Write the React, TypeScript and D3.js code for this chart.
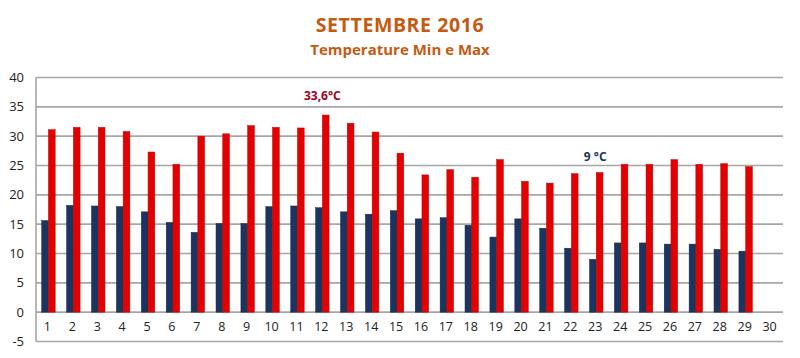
import React from "react";
import * as d3 from "d3";

const days = d3.range(1, 31).map(String);
const minTemps: (number | null)[] = [
  15.6, 18.2, 18.1, 18.0, 17.1, 15.3, 13.6, 15.1, 15.1, 18.0,
  18.1, 17.8, 17.1, 16.7, 17.3, 15.9, 16.1, 14.8, 12.8, 15.9,
  14.3, 10.9, 9.0, 11.8, 11.8, 11.6, 11.6, 10.7, 10.4, null,
];
const maxTemps: (number | null)[] = [
  31.1, 31.5, 31.5, 30.8, 27.3, 25.2, 30.0, 30.4, 31.8, 31.5,
  31.4, 33.6, 32.2, 30.7, 27.1, 23.4, 24.3, 23.0, 26.0, 22.3,
  22.0, 23.6, 23.8, 25.2, 25.2, 26.0, 25.2, 25.3, 24.8, null,
];
const yTicks = [-5, 0, 5, 10, 15, 20, 25, 30, 35, 40];
const title = "SETTEMBRE 2016";
const subtitle = "Temperature Min e Max";
const maxNote = { day: "12", text: "33,6°C" };
const minNote = { day: "23", text: "9 °C" };

const W = 800;
const H = 358;
const left = 36;
const right = 783;
const font = "Open Sans, Liberation Sans, sans-serif";

export default function App() {
  const x = d3.scaleBand<string>().domain(days).range([left, right]);
  const y = d3.scaleLinear().domain([-5, 40]).range([341.5, 77.5]);
  const step = x.step();
  const bw = step * 0.27;
  const navy = "#1c355e";
  const red = "#e30000";

  return (
    <svg
      width={W}
      height={H}
      style={{ position: "absolute", left: 0, top: 0, background: "#fff" }}
      fontFamily={font}
    >
      <text x={400} y={31.5} textAnchor="middle" fontSize={19.5} fontWeight="bold" fill="#c55a11" letterSpacing={0.6}>
        {title}
      </text>
      <text x={400} y={55} textAnchor="middle" fontSize={15} fontWeight="bold" fill="#c55a11">
        {subtitle}
      </text>

      {yTicks.map((t) => (
        <g key={t}>
          <line x1={left} x2={right} y1={y(t)} y2={y(t)} stroke="#a6a6a6" strokeWidth={1.6} />
          <text x={24} y={y(t)} dy="0.35em" textAnchor="end" fontSize={13} fill="#222">
            {t}
          </text>
        </g>
      ))}
      <line x1={left} x2={left} y1={y(40)} y2={y(-5)} stroke="#a6a6a6" strokeWidth={1.6} />

      {days.map((d, i) => {
        const cx = (x(d) as number) + step / 2;
        const mn = minTemps[i];
        const mx = maxTemps[i];
        return (
          <g key={d}>
            {mn != null && (
              <rect
                x={cx - bw}
                y={y(mn)}
                width={bw}
                height={y(0) - y(mn)}
                fill={navy}
                stroke="#12264a"
                strokeWidth={0.5}
              />
            )}
            {mx != null && (
              <rect
                x={cx}
                y={y(mx)}
                width={bw}
                height={y(0) - y(mx)}
                fill={red}
                stroke="#c00000"
                strokeWidth={0.5}
              />
            )}
            <text x={cx - 1} y={y(-2.5)} dy="0.35em" textAnchor="middle" fontSize={12.5} fill="#222">
              {d}
            </text>
          </g>
        );
      })}

      <text
        x={(x(maxNote.day) as number) + step / 2}
        y={y(36.9)}
        dy="0.35em"
        textAnchor="middle"
        fontSize={12}
        fontWeight="bold"
        fill="#a50021"
      >
        {maxNote.text}
      </text>
      <text
        x={(x(minNote.day) as number) + step / 2 - 1}
        y={y(26.5)}
        dy="0.35em"
        textAnchor="middle"
        fontSize={12}
        fontWeight="bold"
        fill="#1c355e"
      >
        {minNote.text}
      </text>
    </svg>
  );
}
